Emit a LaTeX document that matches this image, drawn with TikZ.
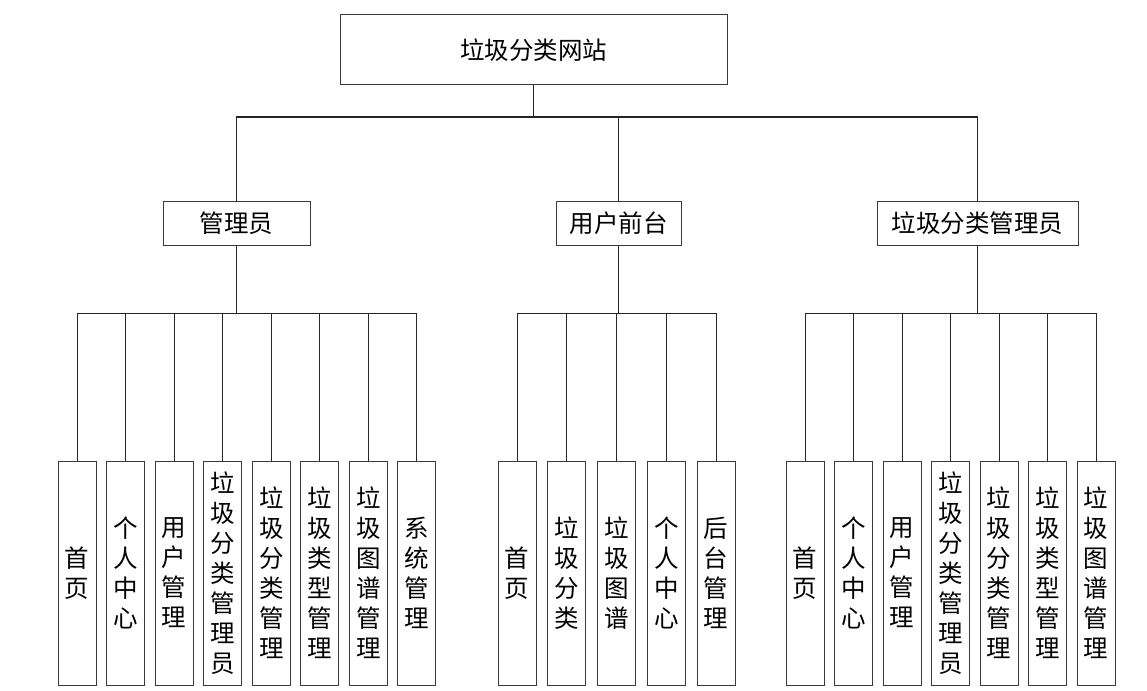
\documentclass[tikz,border=0pt]{standalone}
\usepackage{fontspec}
\setmainfont{Noto Sans CJK SC}
\usepackage{tikz}
\usetikzlibrary{positioning}
\definecolor{boxLine}{HTML}{3A3A3A}
\tikzset{
  box/.style={draw=boxLine, line width=1pt, minimum height=44pt, inner sep=0pt, font=\fontsize{24.5}{30}\selectfont},
  leaf/.style={box, minimum width=38pt, minimum height=224pt, align=center, text width=38pt},
  link/.style={draw=black!85, line width=1pt},
}

\begin{document}
\begin{tikzpicture}[x=1pt, y=-1pt]
  \useasboundingbox (0,0) rectangle (1147,690);
  % top and second level
  \node[box, minimum width=387pt, minimum height=70pt] (root) at (533.5,50) {垃圾分类网站};
  \node[box, minimum width=147pt] (admin) at (236.5,223) {管理员};
  \node[box, minimum width=125pt] (user) at (618.5,223) {用户前台};
  \node[box, minimum width=201pt] (gadmin) at (977.5,223) {垃圾分类管理员};
  \coordinate (bus0) at (533.5,117);
  \coordinate (bus1) at (0,313);
  \draw[link] (root) -- (bus0);
  \draw[link] (admin.north) |- (gadmin.north |- bus0) -- (gadmin.north);
  \draw[link] (user.north) -- (user.north |- bus0);
  % admin leaves
  \foreach \i/\t in {
    0/{首\\页},
    1/{个\\人\\中\\心},
    2/{用\\户\\管\\理},
    3/{垃\\圾\\分\\类\\管\\理\\员},
    4/{垃\\圾\\分\\类\\管\\理},
    5/{垃\\圾\\类\\型\\管\\理},
    6/{垃\\圾\\图\\谱\\管\\理},
    7/{系\\统\\管\\理}}{
    \node[leaf] (a\i) at (77+48.57*\i,573) {\t};
    \draw[link] (a\i.north) -- (a\i.north |- bus1);
  }
  \draw[link] (admin) -- (admin.south |- bus1);
  \draw[link] (a0.north |- bus1) -- (a7.north |- bus1);
  % user leaves
  \foreach \i/\t in {
    0/{首\\页},
    1/{垃\\圾\\分\\类},
    2/{垃\\圾\\图\\谱},
    3/{个\\人\\中\\心},
    4/{后\\台\\管\\理}}{
    \node[leaf] (u\i) at (517+49.75*\i,573) {\t};
    \draw[link] (u\i.north) -- (u\i.north |- bus1);
  }
  \draw[link] (user) -- (user.south |- bus1);
  \draw[link] (u0.north |- bus1) -- (u4.north |- bus1);
  % garbage admin leaves
  \foreach \i/\t in {
    0/{首\\页},
    1/{个\\人\\中\\心},
    2/{用\\户\\管\\理},
    3/{垃\\圾\\分\\类\\管\\理\\员},
    4/{垃\\圾\\分\\类\\管\\理},
    5/{垃\\圾\\类\\型\\管\\理},
    6/{垃\\圾\\图\\谱\\管\\理}}{
    \node[leaf] (g\i) at (805+48.5*\i,573) {\t};
    \draw[link] (g\i.north) -- (g\i.north |- bus1);
  }
  \draw[link] (gadmin) -- (gadmin.south |- bus1);
  \draw[link] (g0.north |- bus1) -- (g6.north |- bus1);
\end{tikzpicture}
\end{document}
